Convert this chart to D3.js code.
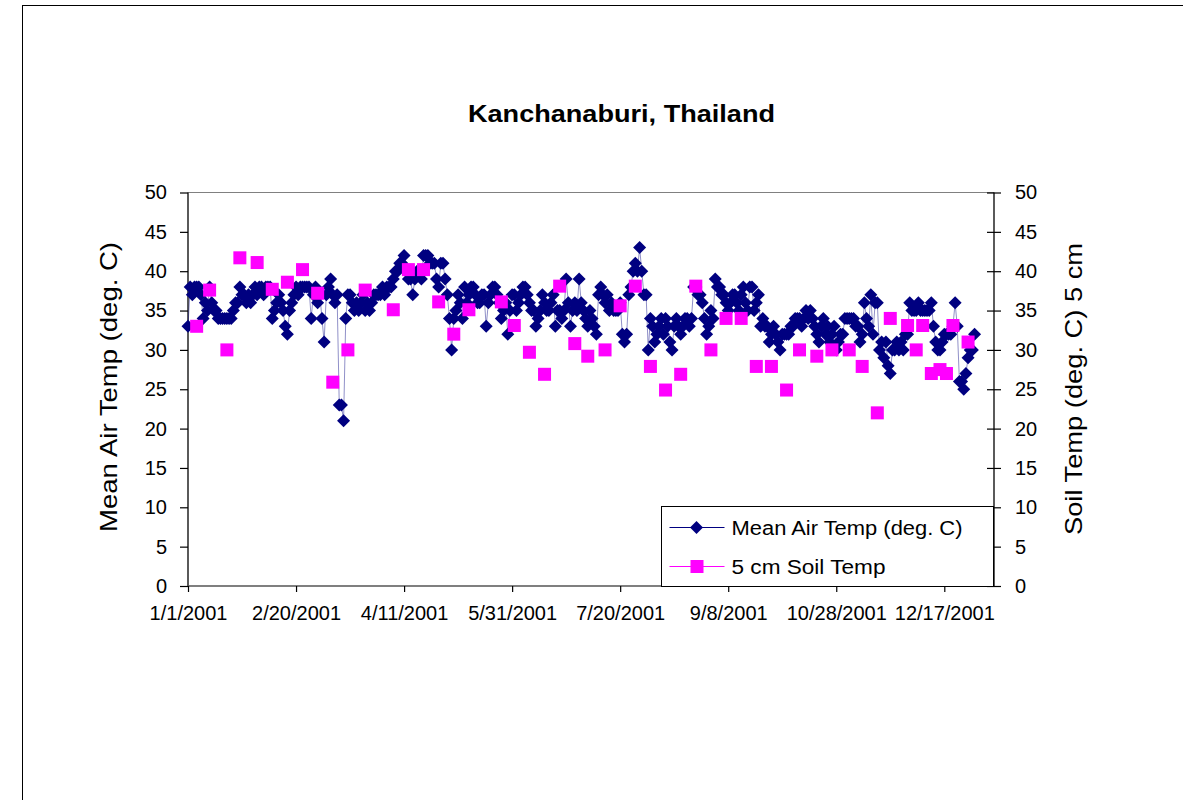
<!DOCTYPE html>
<html>
<head>
<meta charset="utf-8">
<script src="https://cdn.jsdelivr.net/npm/d3@7"></script>
<style>
    body { margin: 0; background: #fff; }
    text { font-family: Arial, "Liberation Sans", sans-serif; fill: #000; }
</style>
</head>
<body>
<div id="chartDiv"></div>
<script>

// first day of the daily series
let startDate = new Date(2001, 0, 1);

// Mean air temperature, one value per day from 1/1/2001
let airTemp = [
    33, 38, 37, 38, 38, 38, 37, 34, 36, 35,
    38, 36, 35, 35, 34, 34, 34, 34, 34, 34,
    34, 35, 36, 36, 38, 37, 37, 36, 37, 36,
    37, 38, 37, 38, 38, 37, 38, 38, 38, 34,
    35, 36, 37, 36, 35, 33, 32, 35, 36, 37,
    38, 37, 38, 38, 38, 38, 38, 34, 37, 38,
    36, 37, 34, 31, 37, 38, 39, 37, 36, 37,
    23, 23, 21, 34, 37, 37, 36, 35, 36, 35,
    36, 37, 35, 36, 35, 36, 37, 37, 37, 37,
    38, 37, 38, 38, 38, 39, 40, 40, 41, 41,
    42, 40, 39, 39, 37, 39, 40, 40, 39, 42,
    42, 42, 41, 41, 41, 39, 38, 41, 41, 39,
    37, 34, 30, 34, 35, 37, 36, 34, 38, 36,
    37, 38, 38, 37, 36, 36, 37, 37, 33, 36,
    37, 38, 38, 37, 36, 34, 35, 36, 32, 35,
    37, 37, 35, 36, 37, 38, 38, 37, 36, 35,
    35, 33, 34, 35, 37, 36, 35, 35, 36, 37,
    33, 35, 35, 34, 35, 39, 36, 33, 35, 36,
    35, 39, 36, 35, 34, 33, 35, 34, 33, 32,
    37, 38, 37, 36, 37, 35, 36, 35, 35, 35,
    36, 32, 31, 32, 37, 38, 40, 41, 40, 43,
    40, 37, 37, 30, 34, 33, 31, 32, 33, 34,
    32, 34, 33, 31, 30, 33, 34, 33, 32, 33,
    34, 34, 33, 34, 38, 38, 37, 37, 36, 34,
    32, 33, 35, 34, 39, 38, 38, 37, 37, 36,
    35, 36, 37, 37, 36, 35, 37, 38, 36, 35,
    38, 38, 35, 36, 37, 33, 34, 33, 33, 31,
    32, 33, 32, 31, 30, 32, 32, 32, 32, 33,
    33, 34, 34, 34, 33, 34, 35, 34, 35, 34,
    33, 32, 31, 33, 34, 32, 33, 31, 32, 33,
    30, 31, 32, 32, 34, 34, 34, 34, 34, 33,
    33, 31, 32, 36, 34, 33, 37, 32, 36, 36,
    30, 31, 29, 31, 28, 27, 30, 30, 31, 30,
    31, 30, 32, 32, 36, 35, 35, 35, 36, 35,
    35, 35, 35, 35, 36, 33, 31, 30, 30, 31,
    32, 32, 32, 32, 33, 36, 33, 26, 26, 25,
    27, 29, 30, 30, 32
];

// 5 cm soil temperature, only measured on some days (day offset from 1/1/2001)
let soilDays = [
    4, 10, 18, 24, 32, 39, 46, 53, 60, 67,
    74, 82, 95, 102, 109, 116, 123, 130, 145, 151,
    158, 165, 172, 179, 185, 193, 200, 207, 214, 221,
    228, 235, 242, 249, 256, 263, 270, 277, 283, 291,
    298, 306, 312, 319, 325, 333, 337, 340, 344, 348,
    351, 354, 361
];
let soilTemp = [
    33, 37.6, 30, 41.7, 41.1, 37.7, 38.6, 40.2, 37.2, 25.9,
    30, 37.6, 35.1, 40.2, 40.2, 36.1, 32, 35.1, 36.1, 33.1,
    29.7, 26.9, 38.1, 30.8, 29.2, 30, 35.6, 38.1, 27.9, 24.9,
    26.9, 38.1, 30, 34, 34, 27.9, 27.9, 24.9, 30, 29.2,
    30, 30, 27.9, 22, 34, 33.1, 30, 33.1, 27, 27.5,
    27, 33.1, 31
];

// axis ticks
let xTickLabels = ["1/1/2001", "2/20/2001", "4/11/2001", "5/31/2001", "7/20/2001",
    "9/8/2001", "10/28/2001", "12/17/2001"];
let yTicks = [0, 5, 10, 15, 20, 25, 30, 35, 40, 45, 50];

let seriesNames = ["Mean Air Temp (deg. C)", "5 cm Soil Temp"];


class tempChart {
    constructor(parentElement){
        this.parentElement = parentElement;
        this.initVis();
    }

    initVis(){
        let vis = this;

        vis.margin = {top: 192.5, right: 189, bottom: 214, left: 188};
        vis.fullWidth = 1183;
        vis.fullHeight = 800;
        vis.width = vis.fullWidth - vis.margin.left - vis.margin.right;
        vis.height = vis.fullHeight - vis.margin.top - vis.margin.bottom;

        vis.root = d3.select("#" + vis.parentElement).append("svg")
            .attr("width", vis.fullWidth)
            .attr("height", vis.fullHeight);

        // chart border (right and bottom edges fall outside the window)
        vis.root.append("rect")
            .attr("x", 22.5)
            .attr("y", 5.5)
            .attr("width", 1170)
            .attr("height", 820)
            .attr("fill", "none")
            .attr("stroke", "#000")
            .attr("stroke-width", 1);

        vis.svg = vis.root.append("g")
            .attr("transform", "translate(" + vis.margin.left + "," + vis.margin.top + ")");

        // Scales
        vis.x = d3.scaleTime()
            .domain([startDate, d3.timeDay.offset(startDate, 373)])
            .range([0, vis.width]);

        vis.y = d3.scaleLinear().domain([0, 50]).range([vis.height, 0]);
        vis.y2 = d3.scaleLinear().domain([0, 50]).range([vis.height, 0]);

        vis.wrangleData();
    }

    wrangleData(){
        let vis = this;

        vis.airData = airTemp.map((v, i) => ({date: d3.timeDay.offset(startDate, i), value: v}));
        vis.soilData = soilDays.map((d, i) => ({date: d3.timeDay.offset(startDate, d), value: soilTemp[i]}));
        vis.xTicks = xTickLabels.map((t, i) => d3.timeDay.offset(startDate, i * 50));

        vis.updateVis();
    }

    updateVis(){
        let vis = this;

        // plot area top border
        vis.svg.append("line")
            .attr("x1", 0).attr("x2", vis.width)
            .attr("y1", 0).attr("y2", 0)
            .attr("stroke", "#808080")
            .attr("stroke-width", 1.2);

        // Left axis
        vis.yAxis = d3.axisLeft(vis.y).tickValues(yTicks).tickSize(8).tickPadding(13);
        let gy = vis.svg.append("g").attr("class", "y-axis").call(vis.yAxis);

        // Right axis, ticks cross the line
        vis.yAxis2 = d3.axisRight(vis.y2).tickValues(yTicks).tickSize(7).tickPadding(14);
        let gy2 = vis.svg.append("g")
            .attr("class", "y2-axis")
            .attr("transform", "translate(" + vis.width + ",0)")
            .call(vis.yAxis2);
        gy2.selectAll(".tick line").attr("x1", -7);

        // Bottom axis
        vis.xAxis = d3.axisBottom(vis.x)
            .tickValues(vis.xTicks)
            .tickFormat((d, i) => xTickLabels[i])
            .tickSize(6)
            .tickPadding(14);
        let gx = vis.svg.append("g")
            .attr("class", "x-axis")
            .attr("transform", "translate(0," + vis.height + ")")
            .call(vis.xAxis);

        [gy, gy2, gx].forEach(g => {
            g.select(".domain").attr("stroke", "#000").attr("stroke-width", 1.3);
            g.selectAll(".tick line").attr("stroke", "#000").attr("stroke-width", 1.2);
            g.selectAll(".tick text").attr("font-size", "20px").attr("font-family", "Arial, 'Liberation Sans', sans-serif");
        });
        gy.select(".domain").attr("d", "M0,0V" + vis.height);
        gy2.select(".domain").attr("d", "M0,0V" + vis.height);
        gx.select(".domain").attr("d", "M0,0H" + vis.width).attr("stroke", "#555");

        // Title
        vis.root.append("text")
            .attr("x", 621.5)
            .attr("y", 122)
            .attr("text-anchor", "middle")
            .attr("font-weight", "bold")
            .attr("font-size", "23px")
            .attr("textLength", 307)
            .attr("lengthAdjust", "spacingAndGlyphs")
            .text("Kanchanaburi, Thailand");

        // Axis titles
        vis.root.append("text")
            .attr("transform", "translate(117," + 387 + ") rotate(-90)")
            .attr("text-anchor", "middle")
            .attr("font-size", "24px")
            .attr("textLength", 290)
            .attr("lengthAdjust", "spacingAndGlyphs")
            .text("Mean Air Temp (deg. C)");

        vis.root.append("text")
            .attr("transform", "translate(1082," + 389 + ") rotate(-90)")
            .attr("text-anchor", "middle")
            .attr("font-size", "24px")
            .attr("textLength", 292)
            .attr("lengthAdjust", "spacingAndGlyphs")
            .text("Soil Temp (deg. C) 5 cm");

        // Air temp line
        let line = d3.line()
            .x(d => vis.x(d.date))
            .y(d => vis.y(d.value));

        vis.svg.append("path")
            .datum(vis.airData)
            .attr("d", line)
            .attr("fill", "none")
            .attr("stroke", "#000080")
            .attr("stroke-opacity", 0.55)
            .attr("stroke-width", 0.8);

        // diamond markers
        let diamond = "M0,-6.5L6.5,0L0,6.5L-6.5,0Z";
        vis.svg.selectAll(".air-point")
            .data(vis.airData)
            .enter()
            .append("path")
            .attr("class", "air-point")
            .attr("d", diamond)
            .attr("transform", d => "translate(" + vis.x(d.date) + "," + vis.y(d.value) + ")")
            .attr("fill", "#000080");

        // Soil temp squares (secondary axis)
        vis.svg.selectAll(".soil-point")
            .data(vis.soilData)
            .enter()
            .append("rect")
            .attr("class", "soil-point")
            .attr("x", d => vis.x(d.date) - 6.5)
            .attr("y", d => vis.y2(d.value) - 6.5)
            .attr("width", 13)
            .attr("height", 13)
            .attr("fill", "#FF00FF");

        // Legend
        let legend = vis.root.append("g").attr("transform", "translate(661.5,506.5)");
        legend.append("rect")
            .attr("width", 332)
            .attr("height", 80)
            .attr("fill", "#fff")
            .attr("stroke", "#000")
            .attr("stroke-width", 1);

        let items = [
            {name: seriesNames[0], color: "#000080", y: 21, len: 231},
            {name: seriesNames[1], color: "#FF00FF", y: 60, len: 154}
        ];
        items.forEach((it, i) => {
            legend.append("line")
                .attr("x1", 8).attr("x2", 63)
                .attr("y1", it.y).attr("y2", it.y)
                .attr("stroke", it.color)
                .attr("stroke-width", 1.2);
            if (i === 0) {
                legend.append("path")
                    .attr("d", diamond)
                    .attr("transform", "translate(35," + it.y + ")")
                    .attr("fill", it.color);
            } else {
                legend.append("rect")
                    .attr("x", 29).attr("y", it.y - 6.5)
                    .attr("width", 13).attr("height", 13)
                    .attr("fill", it.color);
            }
            legend.append("text")
                .attr("x", 70)
                .attr("y", it.y + 7)
                .attr("font-size", "20px")
                .attr("textLength", it.len)
                .attr("lengthAdjust", "spacingAndGlyphs")
                .text(it.name);
        });
    }
}

new tempChart("chartDiv");

</script>
</body>
</html>
